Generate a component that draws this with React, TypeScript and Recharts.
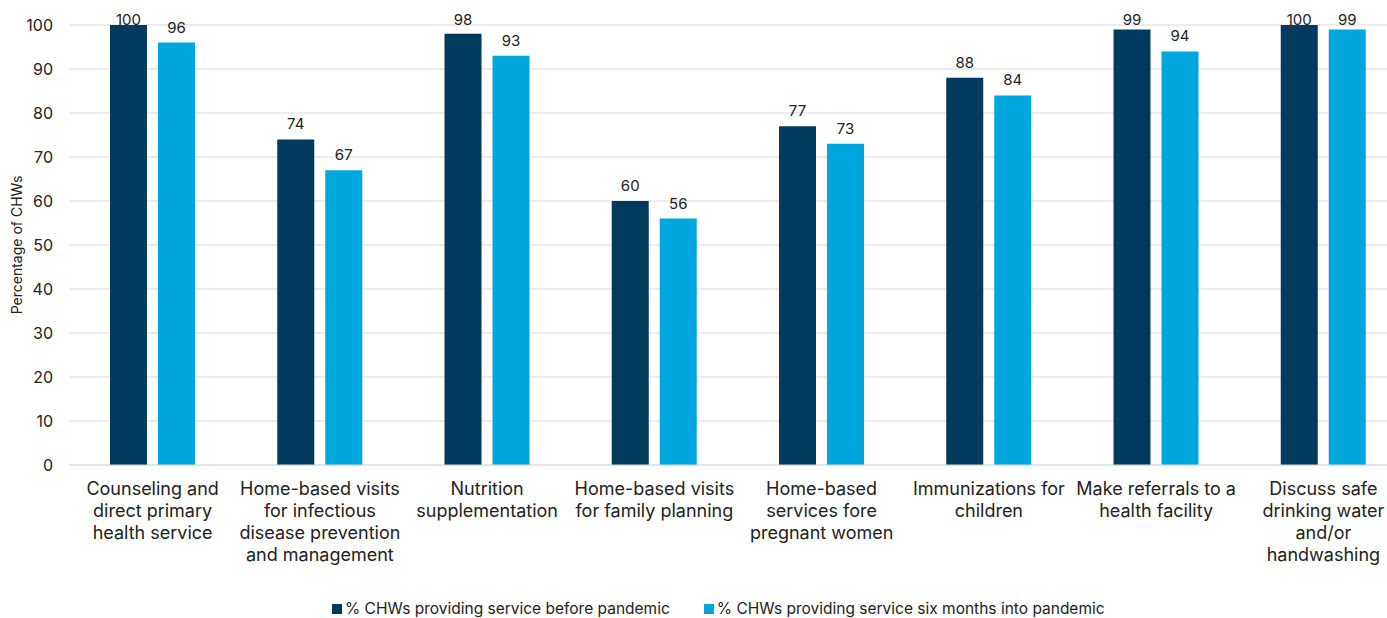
import React from "react";
import {
  BarChart,
  Bar,
  XAxis,
  YAxis,
  CartesianGrid,
  LabelList,
  Legend,
} from "recharts";

const CATEGORIES = [
  "Counseling and\ndirect primary\nhealth service",
  "Home-based visits\nfor infectious\ndisease prevention\nand management",
  "Nutrition\nsupplementation",
  "Home-based visits\nfor family planning",
  "Home-based\nservices fore\npregnant women",
  "Immunizations for\nchildren",
  "Make referrals to a\nhealth facility",
  "Discuss safe\ndrinking water\nand/or\nhandwashing",
];

const BEFORE = [100, 74, 98, 60, 77, 88, 99, 100];
const SIX_MONTHS = [96, 67, 93, 56, 73, 84, 94, 99];
const Y_TICKS = [0, 10, 20, 30, 40, 50, 60, 70, 80, 90, 100];

const SERIES = [
  { key: "before", name: "% CHWs providing service before pandemic", color: "#003A5D" },
  { key: "six", name: "% CHWs providing service six months into pandemic", color: "#00A6DE" },
];

const data = CATEGORIES.map((c, i) => ({
  name: c,
  before: BEFORE[i],
  six: SIX_MONTHS[i],
}));

const FONT = "Inter, 'Open Sans', sans-serif";
const TEXT = "#222222";

function CategoryTick(props: any) {
  const { x, y, payload } = props;
  const lines: string[] = String(payload.value).split("\n");
  return (
    <text x={x} y={y} textAnchor="middle" fill={TEXT} fontSize={18} fontFamily={FONT}>
      {lines.map((l, i) => (
        <tspan key={i} x={x} dy={22}>
          {l}
        </tspan>
      ))}
    </text>
  );
}

// value labels sit above the bar, but never above the plot's top edge
function ValueLabel(props: any) {
  const { x, y, width, value } = props;
  const ty = Math.max(y - 10, 25);
  return (
    <text
      x={x + width / 2}
      y={ty}
      textAnchor="middle"
      fill={TEXT}
      fontSize={15}
      fontFamily={FONT}
    >
      {value}
    </text>
  );
}

function LegendContent() {
  return (
    <div
      style={{
        display: "flex",
        height: 20,
        lineHeight: "20px",
        paddingLeft: 332,
        gap: 34,
        fontFamily: FONT,
        fontSize: 15.5,
        color: TEXT,
        whiteSpace: "nowrap",
      }}
    >
      {SERIES.map((s) => (
        <div key={s.key} style={{ display: "flex", alignItems: "center" }}>
          <span
            style={{
              display: "inline-block",
              width: 10,
              height: 10,
              background: s.color,
              marginRight: 3,
            }}
          />
          {s.name}
        </div>
      ))}
    </div>
  );
}

export default function App() {
  return (
    <div
      style={{
        position: "absolute",
        left: 0,
        top: 0,
        width: 1387,
        height: 618,
        overflow: "hidden",
        background: "#fff",
      }}
    >
      <BarChart
        width={1407}
        height={618}
        data={data}
        margin={{ top: 25, right: 0, left: 0, bottom: 0 }}
        barGap={11}
      >
        <CartesianGrid stroke="#d9d9d9" vertical={false} />
        <XAxis
          dataKey="name"
          interval={0}
          tick={<CategoryTick />}
          tickLine={false}
          axisLine={{ stroke: "#d9d9d9" }}
          height={133}
        />
        <YAxis
          domain={[0, 100]}
          ticks={Y_TICKS}
          width={69}
          tickLine={false}
          axisLine={false}
          tick={{ fontSize: 16, fill: TEXT, fontFamily: FONT }}
          tickMargin={10}
          label={{
            value: "Percentage of CHWs",
            angle: -90,
            position: "insideLeft",
            offset: 17,
            style: { textAnchor: "middle", fontSize: 14, fill: TEXT, fontFamily: FONT },
          }}
        />
        <Legend
          verticalAlign="bottom"
          align="left"
          content={<LegendContent />}
          wrapperStyle={{ bottom: -1, left: 0, width: 1387 }}
        />
        {SERIES.map((s) => (
          <Bar
            key={s.key}
            dataKey={s.key}
            name={s.name}
            fill={s.color}
            barSize={37}
            isAnimationActive={false}
          >
            <LabelList dataKey={s.key} content={<ValueLabel />} />
          </Bar>
        ))}
      </BarChart>
    </div>
  );
}
